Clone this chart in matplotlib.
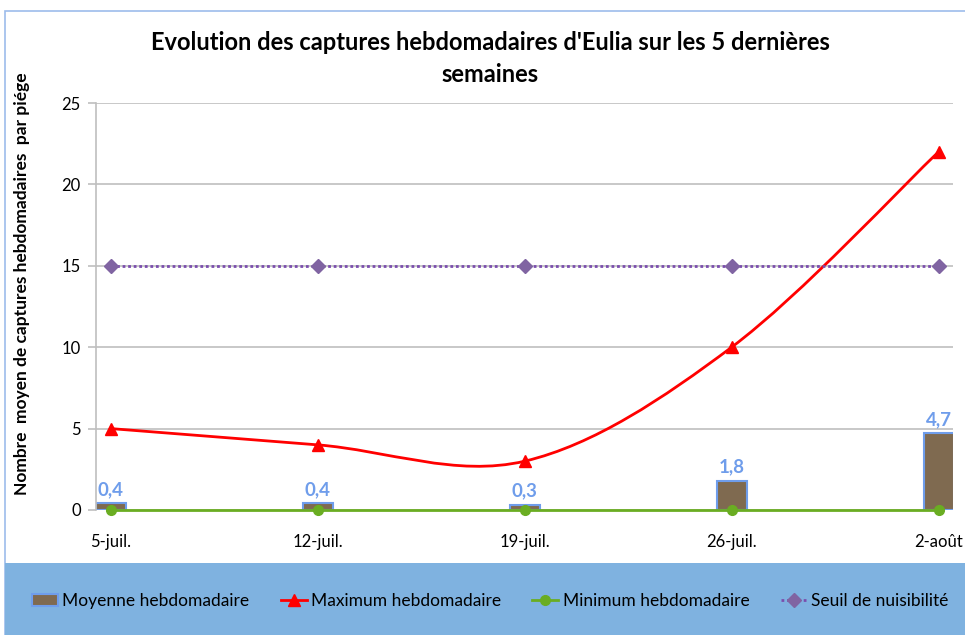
import matplotlib
matplotlib.use("Agg")
import matplotlib.pyplot as plt
from matplotlib.path import Path
from matplotlib.patches import PathPatch, Rectangle
from matplotlib.lines import Line2D

plt.rcParams["font.family"] = ["Lato", "DejaVu Sans"]

weeks = ["5-juil.", "12-juil.", "19-juil.", "26-juil.", "2-août"]
moyenne = [0.4, 0.4, 0.3, 1.8, 4.7]
maximum = [5, 4, 3, 10, 22]
minimum = [0, 0, 0, 0, 0]
seuil = [15, 15, 15, 15, 15]
moyenne_labels = ["0,4", "0,4", "0,3", "1,8", "4,7"]

BAR = "#7F6A50"
BAR_EDGE = "#6F9DEB"
RED = "#FF0000"
GREEN = "#6AAD22"
PURPLE = "#8064A2"
PURPLE_DOTS = "#7A4DAE"
BAND = "#7FB2E0"


def smooth_path(xs, ys):
    # Excel-style smoothed line: Catmull-Rom drawn as cubic Bezier segments
    pts = list(zip(xs, ys))
    verts = [pts[0]]
    codes = [Path.MOVETO]
    n = len(pts)
    for i in range(n - 1):
        p0 = pts[i - 1] if i > 0 else pts[i]
        p1 = pts[i]
        p2 = pts[i + 1]
        p3 = pts[i + 2] if i + 2 < n else pts[i + 1]
        c1 = (p1[0] + (p2[0] - p0[0]) / 6, p1[1] + (p2[1] - p0[1]) / 6)
        c2 = (p2[0] - (p3[0] - p1[0]) / 6, p2[1] - (p3[1] - p1[1]) / 6)
        verts += [c1, c2, p2]
        codes += [Path.CURVE4] * 3
    return Path(verts, codes)


fig = plt.figure(figsize=(9.65, 6.35), dpi=100)

# outer chart frame and legend band
fig.patches.append(Rectangle((5 / 965, -0.05), 1.0, 1.05 - 11 / 635, transform=fig.transFigure,
                             facecolor="white", edgecolor="#9DBCEB", lw=1.2, zorder=0))
fig.patches.append(Rectangle((5 / 965, -0.05), 1.0, 0.05 + 72 / 635, transform=fig.transFigure,
                             facecolor=BAND, edgecolor="none", zorder=1))

ax = fig.add_axes([96 / 965, 1 - 510 / 635, 857 / 965, 407 / 635])
ax.set_zorder(3)
ax.set_facecolor("none")
x = list(range(len(weeks)))

ax.bar(x, moyenne, width=0.145, color=BAR, edgecolor=BAR_EDGE, lw=1.5, zorder=2,
       label="Moyenne hebdomadaire")
for xi, v, lab in zip(x, moyenne, moyenne_labels):
    ax.annotate(lab, (xi, v), xytext=(0, 4), textcoords="offset points", ha="center",
                va="bottom", color="#6F9DEB", fontsize=13.5, fontweight="bold")

ax.add_patch(PathPatch(smooth_path(x, maximum), facecolor="none", edgecolor=RED, lw=2, zorder=3))
ax.plot(x, maximum, ls="none", marker="^", ms=8, color=RED, zorder=4)
ax.plot(x, minimum, color=GREEN, lw=2, marker="o", ms=7, zorder=4, clip_on=False)
ax.plot(x, seuil, color=PURPLE_DOTS, lw=2, ls=(0, (1, 1)), marker="D", ms=7,
        mfc=PURPLE, mec=PURPLE, zorder=3)

ax.set_xlim(-0.0725, 4.07)
ax.set_ylim(0, 25)
ax.set_yticks([0, 5, 10, 15, 20, 25])
ax.set_xticks(x)
ax.set_xticklabels(weeks)
ax.grid(axis="y", color="#BFBFBF", lw=1.2, zorder=0)
ax.set_axisbelow(True)
for side in ["top", "right", "bottom"]:
    ax.spines[side].set_visible(False)
ax.spines["left"].set_color("#BFBFBF")
ax.spines["left"].set_linewidth(1.2)
ax.tick_params(axis="y", length=6, color="#BFBFBF", width=1.2, labelsize=12, pad=5)
ax.tick_params(axis="x", length=0, labelsize=12, pad=17)

ax.set_ylabel("Nombre  moyen de captures hebdomadaires  par piége", fontsize=12.5,
              fontweight="bold")
ax.yaxis.set_label_coords(-66 / 857, 0.555)

fig.text(0.508, 1 - 42 / 635, "Evolution des captures hebdomadaires d'Eulia sur les 5 dernières",
         ha="center", va="center", fontsize=17, fontweight="bold")
fig.text(0.508, 1 - 75 / 635, "semaines", ha="center", va="center", fontsize=17, fontweight="bold")

handles = [
    Rectangle((0, 0), 1, 1, facecolor=BAR, edgecolor=BAR_EDGE, lw=1.5),
    Line2D([], [], color=RED, lw=2, marker="^", ms=8),
    Line2D([], [], color=GREEN, lw=2, marker="o", ms=7),
    Line2D([], [], color=PURPLE_DOTS, lw=2, ls=(0, (1, 1)), marker="D", ms=7,
           mfc=PURPLE, mec=PURPLE),
]
labels = ["Moyenne hebdomadaire", "Maximum hebdomadaire", "Minimum hebdomadaire",
          "Seuil de nuisibilité"]
fig.legend(handles, labels, loc="center", bbox_to_anchor=(0.508, 1 - 601 / 635), ncol=4,
           frameon=False, fontsize=12.5, handlelength=1.5, handletextpad=0.25,
           columnspacing=1.8)

fig.savefig("out.png", dpi=100)
